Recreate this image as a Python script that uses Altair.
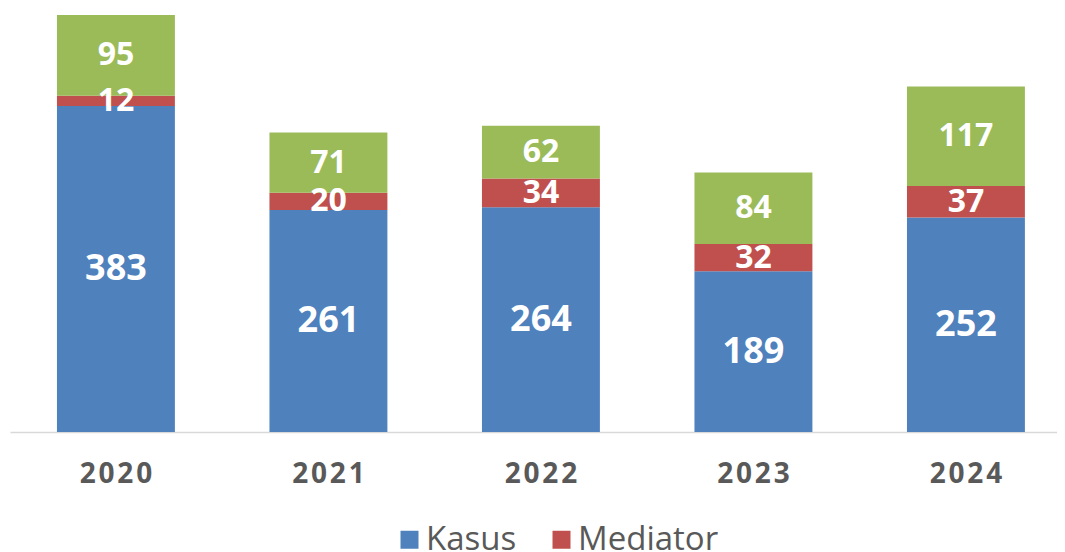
import altair as alt
import pandas as pd

years = ["2020", "2021", "2022", "2023", "2024"]
kasus = [383, 261, 264, 189, 252]
mediator = [12, 20, 34, 32, 37]
lainnya = [95, 71, 62, 84, 117]
series_names = ["Kasus", "Mediator", "Lainnya"]
colors = ["#4F81BD", "#C0504D", "#9BBB59"]

rows = []
for i, yr in enumerate(years):
    for order, (name, vals) in enumerate(zip(series_names, [kasus, mediator, lainnya])):
        rows.append({"year": yr, "series": name, "value": vals[i], "order": order})
df = pd.DataFrame(rows)

xenc = alt.X(
    "year:N", title=None, sort=years,
    scale=alt.Scale(paddingInner=0.445, paddingOuter=0.186, align=0.594),
    axis=alt.Axis(labelAngle=0, ticks=False, grid=False,
                  domainColor="#D9D9D9", domainWidth=1.5,
                  labelFont="Open Sans", labelFontWeight="bold", labelFontSize=28,
                  labelColor="#595959", labelPadding=28,
                  labelExpr="join(split(datum.label, ''), '\u200a')"),
)
yscale = alt.Scale(domain=[0, 490], nice=False, zero=True)

bars = alt.Chart(df).mark_bar().encode(
    x=xenc,
    y=alt.Y("value:Q", stack="zero", scale=yscale, axis=None),
    color=alt.Color("series:N", scale=alt.Scale(domain=series_names, range=colors),
                    legend=alt.Legend(values=["Kasus", "Mediator"], title=None,
                                      orient="none", direction="horizontal",
                                      legendX=383, legendY=508,
                                      symbolType="square", symbolSize=324,
                                      symbolStrokeWidth=0, symbolOpacity=1,
                                      labelFont="Open Sans", labelFontSize=33,
                                      labelColor="#595959", labelOffset=0,
                                      columnPadding=28, labelLimit=300)),
    order=alt.Order("order:Q"),
)

labels = alt.Chart(df).transform_stack(
    stack="value", groupby=["year"], as_=["y0", "y1"],
    sort=[alt.SortField("order", order="ascending")],
).transform_calculate(
    mid="(datum.y0 + datum.y1) / 2"
).mark_text(font="Open Sans", fontWeight="bold", color="white",
            baseline="middle", align="center").encode(
    x=alt.X("year:N", sort=years),
    y=alt.Y("mid:Q", scale=yscale, axis=None),
    text=alt.Text("value:Q"),
    size=alt.condition(alt.datum.series == "Kasus", alt.value(36), alt.value(32)),
)

chart = alt.layer(bars, labels).properties(
    width=1047, height=417,
    autosize=alt.AutoSizeParams(type="none"),
    padding={"left": 2, "top": 7, "right": 0, "bottom": 120},
).configure_view(stroke=None)

chart.save("out.html", embed_options={"renderer": "svg", "actions": False})
